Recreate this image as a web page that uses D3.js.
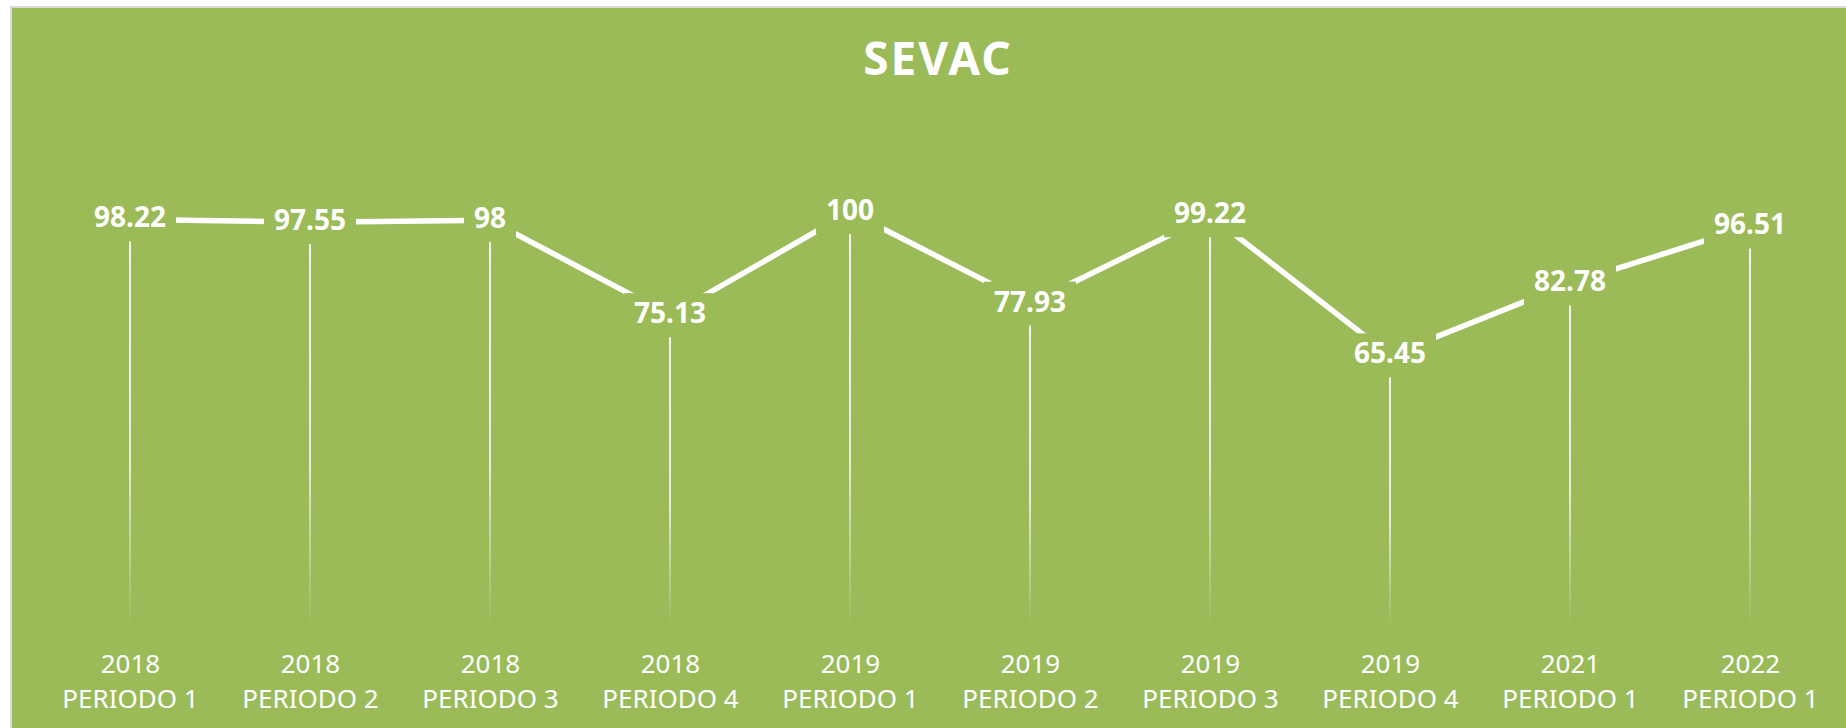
<!DOCTYPE html>
<html>
<head>
    <meta charset="utf-8">
    <title>SEVAC</title>
    <script type="text/javascript" src="https://cdn.jsdelivr.net/npm/d3@7"></script>
    <style>
        body { margin: 0; background: #ffffff; }
        svg { display: block; }
    </style>
</head>

<body>

<script type="text/javascript">

    // data
    var years = ["2018", "2018", "2018", "2018", "2019", "2019", "2019", "2019", "2021", "2022"];
    var periods = ["PERIODO 1", "PERIODO 2", "PERIODO 3", "PERIODO 4", "PERIODO 1",
                   "PERIODO 2", "PERIODO 3", "PERIODO 4", "PERIODO 1", "PERIODO 1"];
    var values = [98.22, 97.55, 98, 75.13, 100, 77.93, 99.22, 65.45, 82.78, 96.51];
    var yDomain = [0, 120];

    var _width = 1846, _height = 728,
        _bg = "#9bbb59",
        _font = "'Noto Sans', 'Open Sans', sans-serif";

    var svg = d3.select("body").append("svg")
            .attr("width", _width)
            .attr("height", _height);

    // chart area with the thin grey frame (runs off the right and bottom)
    svg.append("rect")
            .attr("x", 11)
            .attr("y", 7)
            .attr("width", _width)
            .attr("height", _height)
            .attr("fill", _bg)
            .attr("stroke", "#d9d9d9")
            .attr("stroke-width", 2);

    // fading gradient for the drop lines
    var grad = svg.append("defs").append("linearGradient")
            .attr("id", "drop-fade")
            .attr("x1", 0).attr("y1", 0)
            .attr("x2", 0).attr("y2", 1);
    grad.append("stop").attr("offset", 0).attr("stop-color", "#f4f4f4").attr("stop-opacity", 1);
    grad.append("stop").attr("offset", 0.6).attr("stop-color", "#f4f4f4").attr("stop-opacity", 0.85);
    grad.append("stop").attr("offset", 1).attr("stop-color", "#f4f4f4").attr("stop-opacity", 0);

    var idx = d3.range(values.length);

    var x = d3.scalePoint()
            .domain(idx)
            .range([130, 1750]);

    // plot bottom at 627, ~4.15px per unit
    var y = d3.scaleLinear()
            .domain(yDomain)
            .range([627, 627 - 120 * 4.15]);

    // title
    svg.append("text")
            .attr("x", 938)
            .attr("y", 75)
            .attr("text-anchor", "middle")
            .attr("fill", "#ffffff")
            .attr("font-family", _font)
            .attr("font-weight", "bold")
            .attr("font-size", 46)
            .attr("letter-spacing", 2)
            .text("SEVAC");

    // category axis, two line labels, no domain or ticks
    var xAxis = d3.axisBottom(x)
            .tickSize(0)
            .tickPadding(0)
            .tickFormat(function (i) { return years[i]; });

    var axisG = svg.append("g")
            .attr("class", "axis")
            .call(xAxis);

    axisG.select(".domain").remove();

    axisG.selectAll(".tick text")
            .attr("fill", "#ffffff")
            .attr("font-family", _font)
            .attr("font-size", 26)
            .attr("dy", null)
            .attr("y", null)
            .each(function (i) {
                var t = d3.select(this).text(null);
                t.append("tspan").attr("x", 0).attr("y", 673).text(years[i]);
                t.append("tspan").attr("x", 0).attr("y", 708).text(periods[i]);
            });

    // drop lines from each point down to the axis
    svg.append("g").selectAll("rect.drop")
            .data(idx)
            .enter()
            .append("rect")
            .attr("class", "drop")
            .attr("x", function (i) { return x(i) - 1; })
            .attr("y", function (i) { return y(values[i]); })
            .attr("width", 2)
            .attr("height", function (i) { return y(0) - y(values[i]); })
            .attr("fill", "url(#drop-fade)");

    // the line itself
    var line = d3.line()
            .x(function (i) { return x(i); })
            .y(function (i) { return y(values[i]); });

    svg.append("path")
            .datum(idx)
            .attr("d", line)
            .attr("fill", "none")
            .attr("stroke", "#ffffff")
            .attr("stroke-width", 5.5)
            .attr("stroke-linejoin", "miter");

    // data labels sit on the points with a green box behind them
    var labels = svg.append("g").selectAll("g.label")
            .data(idx)
            .enter()
            .append("g")
            .attr("class", "label")
            .attr("transform", function (i) {
                return "translate(" + x(i) + "," + y(values[i]) + ")";
            });

    labels.append("text")
            .attr("text-anchor", "middle")
            .attr("y", 8)
            .attr("fill", "#ffffff")
            .attr("font-family", _font)
            .attr("font-weight", "bold")
            .attr("font-size", 28)
            .text(function (i) { return String(values[i]); });

    labels.insert("rect", "text")
            .each(function () {
                var bb = this.parentNode.querySelector("text").getBBox();
                d3.select(this)
                        .attr("x", bb.x - 10)
                        .attr("y", -22)
                        .attr("width", bb.width + 20)
                        .attr("height", 44)
                        .attr("fill", _bg);
            });

</script>

</body>

</html>
